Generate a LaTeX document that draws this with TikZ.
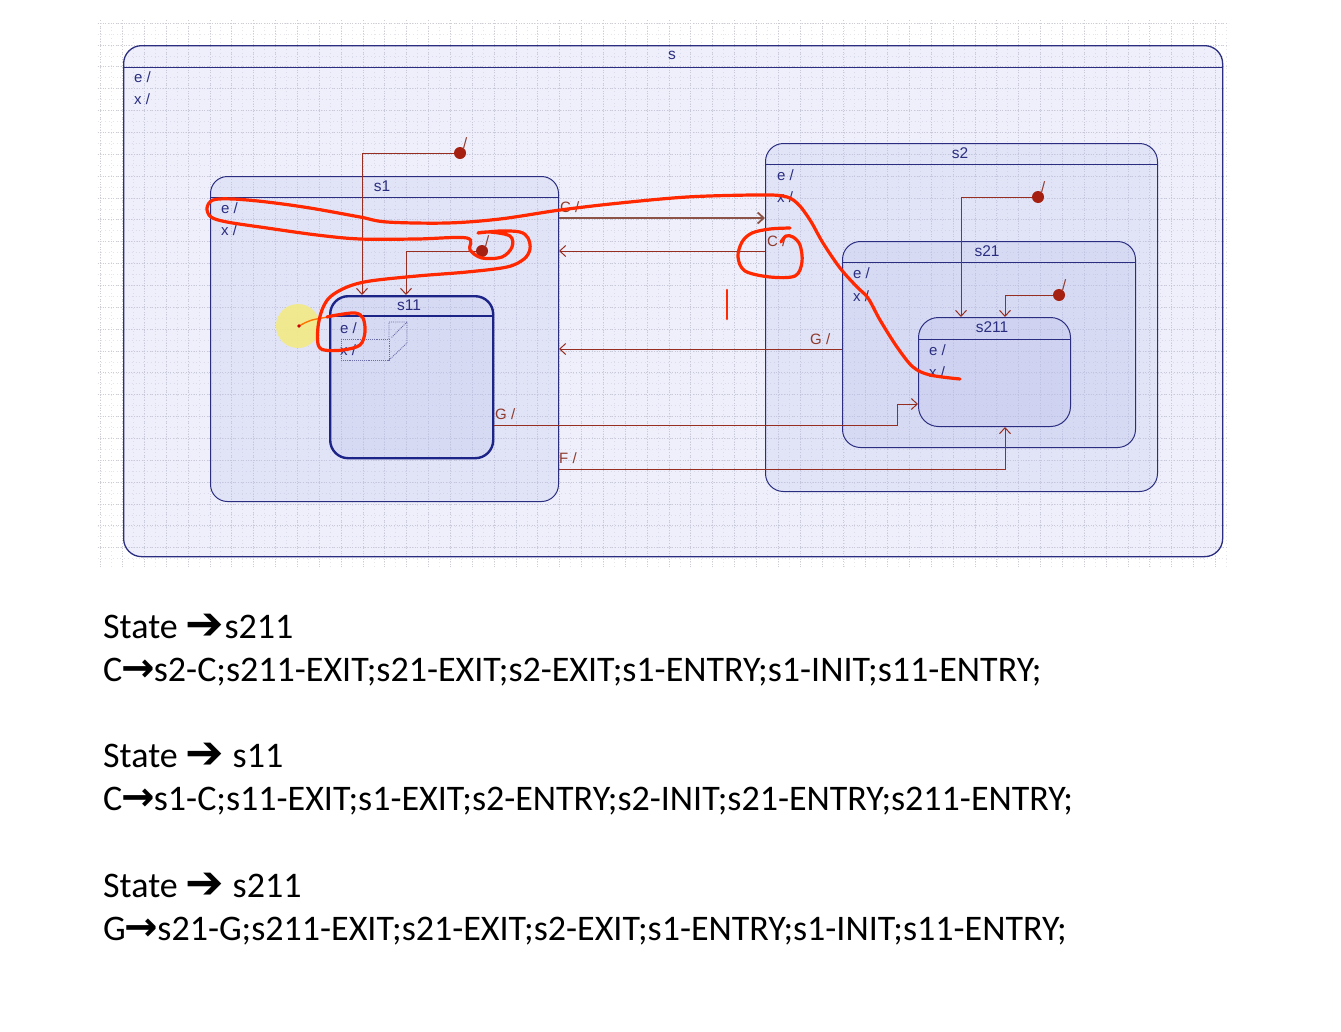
\documentclass[tikz,border=0pt]{standalone}
\usepackage{fontspec}
\setmainfont{Carlito}
\newfontfamily\diag{Liberation Sans}
\newfontfamily\sym{DejaVu Sans}
\usetikzlibrary{arrows.meta}
\definecolor{navy}{HTML}{2B2E80}
\definecolor{navyd}{HTML}{1C2488}
\definecolor{sblend}{HTML}{B8BEEB}
\definecolor{trn}{HTML}{962E22}
\definecolor{trnc}{HTML}{8C5448}
\definecolor{lbl}{HTML}{8E3A2C}
\definecolor{ink}{HTML}{FF2800}
\definecolor{gridc}{HTML}{CDCDD4}
\definecolor{gridm}{HTML}{E6E6EC}
\definecolor{dotc}{HTML}{A52010}
\definecolor{hilite}{HTML}{F3EA85}
\tikzset{
  statebox/.style={draw=navy, line width=1pt, fill=sblend, fill opacity=0.24,
    text opacity=1, draw opacity=1, rounded corners=18pt, inner sep=0pt, anchor=north west},
  titleline/.style={draw=navy, line width=0.9pt},
  stlabel/.style={text=navy, font=\diag\fontsize{15.5}{18}\selectfont, inner sep=0pt},
  actlabel/.style={text=navy, font=\diag\fontsize{15}{18}\selectfont, inner sep=0pt, anchor=west},
  trlabel/.style={text=lbl, font=\diag\fontsize{15}{18}\selectfont, inner sep=0pt, anchor=west},
  trans/.style={draw=trn, line width=1pt, -{Straight Barb[length=6pt,width=11pt]}},
  initdot/.style={circle, fill=dotc, minimum size=12pt, inner sep=0pt},
  inkline/.style={draw=ink, line width=3.2pt, line cap=round, line join=round},
  dotbox/.style={draw=navy!70, line width=0.9pt, densely dotted},
  bigtext/.style={anchor=base west, inner sep=0pt, font=\fontsize{36}{42}\selectfont}
}
\newcommand{\Harr}{{\sym\fontsize{46}{46}\selectfont\raisebox{-1pt}{➔}}}
\newcommand{\Larr}{{\sym\bfseries\fontsize{40}{40}\selectfont\kern-1pt→\kern-1pt}}
\begin{document}
\begin{tikzpicture}[x=1pt,y=-1pt]
\useasboundingbox (0,0) rectangle (1341,1031);
\fill[white] (0,0) rectangle (1341,1031);
% grid
\begin{scope}[shift={(100.5,23)}]
  \draw[gridm, line width=0.5pt, dash pattern=on 0.8pt off 3pt] (-3,-3) grid[step=10.93pt] (1128,544);
  \draw[gridc, line width=0.6pt, dotted] (-3,-3) grid[step=21.86pt] (1128,544);
\end{scope}
% states
\node[statebox, minimum width=1099pt, minimum height=511pt, line width=1.3pt] (s) at (123,45) {};
\node[statebox, minimum width=348pt, minimum height=325pt, rounded corners=17pt] (s1) at (210,176) {};
\node[statebox, minimum width=163pt, minimum height=162pt, line width=2.4pt, draw=navyd] (s11) at (329,295) {};
\node[statebox, minimum width=392pt, minimum height=348pt] (s2) at (765,143) {};
\node[statebox, minimum width=293pt, minimum height=206pt] (s21) at (842,241) {};
\node[statebox, minimum width=152pt, minimum height=109pt, rounded corners=20pt] (s211) at (918,317) {};
\draw[titleline] ([yshift=-22pt]s.north west) -- ([yshift=-22pt]s.north east);
\draw[titleline] ([yshift=-21pt]s1.north west) -- ([yshift=-21pt]s1.north east);
\draw[titleline, line width=2.2pt, draw=navyd] ([yshift=-21pt]s11.north west) -- ([yshift=-21pt]s11.north east);
\draw[titleline] ([yshift=-21pt]s2.north west) -- ([yshift=-21pt]s2.north east);
\draw[titleline] ([yshift=-21pt]s21.north west) -- ([yshift=-21pt]s21.north east);
\draw[titleline] ([yshift=-22pt]s211.north west) -- ([yshift=-22pt]s211.north east);
% state names
\node[stlabel] (ls) at (672,55) {s};
\node[stlabel] (ls1) at (382,186) {s1};
\node[stlabel] (ls11) at (409,305) {s11};
\node[stlabel] (ls2) at (960,153) {s2};
\node[stlabel] (ls21) at (987,251) {s21};
\node[stlabel] (ls211) at (992,327) {s211};
% entry / exit labels
\node[actlabel] (se) at (134,77) {e /};
\node[actlabel] (sx) at (134,99) {x /};
\node[actlabel] (s1e) at (221,208) {e /};
\node[actlabel] (s1x) at (221,230) {x /};
\node[actlabel] (s11e) at (340,328) {e /};
\node[actlabel] (s11x) at (340,350) {x /};
\node[actlabel] (s2e) at (777,175) {e /};
\node[actlabel] (s2x) at (777,197) {x /};
\node[actlabel] (s21e) at (853,273) {e /};
\node[actlabel] (s21x) at (853,296) {x /};
\node[actlabel] (s211e) at (929,350) {e /};
\node[actlabel] (s211x) at (929,372) {x /};
% dotted compartment box in s11
\draw[dotbox] (341,339) rectangle (389,360);
\draw[dotbox] (389,339) -- (389,322) -- (407,322) -- (407,343) -- (389,360);
\draw[dotbox] (407,322) -- (391,338);
% helper coordinates
\coordinate (yC1) at (0,218);
\coordinate (yC2) at (0,251);
\coordinate (yG1) at (0,349);
\coordinate (yG2) at (0,425);
\coordinate (yG3) at (0,404);
\coordinate (yF) at (0,469);
\coordinate (gbend) at (897,425);
% initial pseudostates
\node[initdot] (i0) at (460,153) {};
\node[initdot] (i1) at (482,251) {};
\node[initdot] (i2) at (1038,197) {};
\node[initdot] (i3) at (1059,295) {};
\node[trlabel] (li0) at (463,143) {/};
\node[trlabel] (li1) at (485,241) {/};
\node[trlabel] (li2) at (1041,187) {/};
\node[trlabel] (li3) at (1062,285) {/};
\draw[trans] (i0) -| ([xshift=33pt]s11.north west);
\draw[trans] (i1) -| ([xshift=77pt]s11.north west);
\draw[trans] (i2) -| ([xshift=43pt]s211.north west);
\draw[trans] (i3) -| ([xshift=87pt]s211.north west);
% transitions
\draw[trans, draw=trnc, line width=1.8pt] (s1.east |- yC1) -- (s2.west |- yC1);
\draw[trans] (s2.west |- yC2) -- (s1.east |- yC2);
\draw[trans] (s21.west |- yG1) -- (s1.east |- yG1);
\draw[trans] (s11.east |- yG2) -- (gbend) |- (s211.west |- yG3);
\draw[trans] (s1.east |- yF) -| ([xshift=87pt]s211.south west);
\node[trlabel] (lc1) at (560,207) {C /};
\node[trlabel] (lc2) at (767,241) {C /};
\node[trlabel] (lg1) at (810,339) {G /};
\node[trlabel] (lg2) at (495,414) {G /};
\node[trlabel] (lf) at (559,458) {F /};
% highlight
\fill[hilite, opacity=0.9] (298,326) circle (22pt);
\draw[orange!90!red, line width=1.4pt] (299,326) .. controls (310,320) .. (328,317);
\fill[red!80!black] (299,326) circle (1.8pt);
% red ink annotations
\draw[inkline] plot[smooth, tension=0.55] coordinates {
 (960,379) (930,375) (913,367) (897,347) (880,320) (868,298) (857,287) (840,268)
 (823,243) (810,220) (797,203) (783,196) (753,195) (687,197) (620,203) (560,210)
 (500,219) (447,223) (387,222) (360,217) (310,208) (267,202) (233,199) (213,200)
 (207,208) (211,217) (227,222) (267,228) (317,235) (360,239) (417,239) (467,238)
 (470,250) (482,258) (502,257) (512,247) (510,236) (490,232) (478,233) (500,231)
 (520,232) (528,238) (530,249) (524,259) (507,267) (467,272) (417,276) (370,281)
 (347,287) (330,297) (322,310) (318,327) (318,344) (324,350) (343,350) (360,345)
 (365,332) (363,318) (355,313) (337,315) (327,317)};
\draw[inkline] plot[smooth, tension=0.55] coordinates {
 (790,228) (770,229) (752,233) (742,242) (738,257) (745,271) (770,277) (795,276)
 (802,262) (800,245) (793,237) (786,236) (781,242)};
\draw[inkline, line width=2.6pt] (727,290) -- (727,319);
% text below
\node[bigtext] (t1) at (103,638) {State \Harr s211};
\node[bigtext] (t2) at (103,681) {C\Larr s2-C;s211-EXIT;s21-EXIT;s2-EXIT;s1-ENTRY;s1-INIT;s11-ENTRY;};
\node[bigtext] (t3) at (103,767) {State \Harr\ s11};
\node[bigtext] (t4) at (103,810) {C\Larr s1-C;s11-EXIT;s1-EXIT;s2-ENTRY;s2-INIT;s21-ENTRY;s211-ENTRY;};
\node[bigtext] (t5) at (103,897) {State \Harr\ s211};
\node[bigtext] (t6) at (103,940) {G\Larr s21-G;s211-EXIT;s21-EXIT;s2-EXIT;s1-ENTRY;s1-INIT;s11-ENTRY;};
\end{tikzpicture}
\end{document}
